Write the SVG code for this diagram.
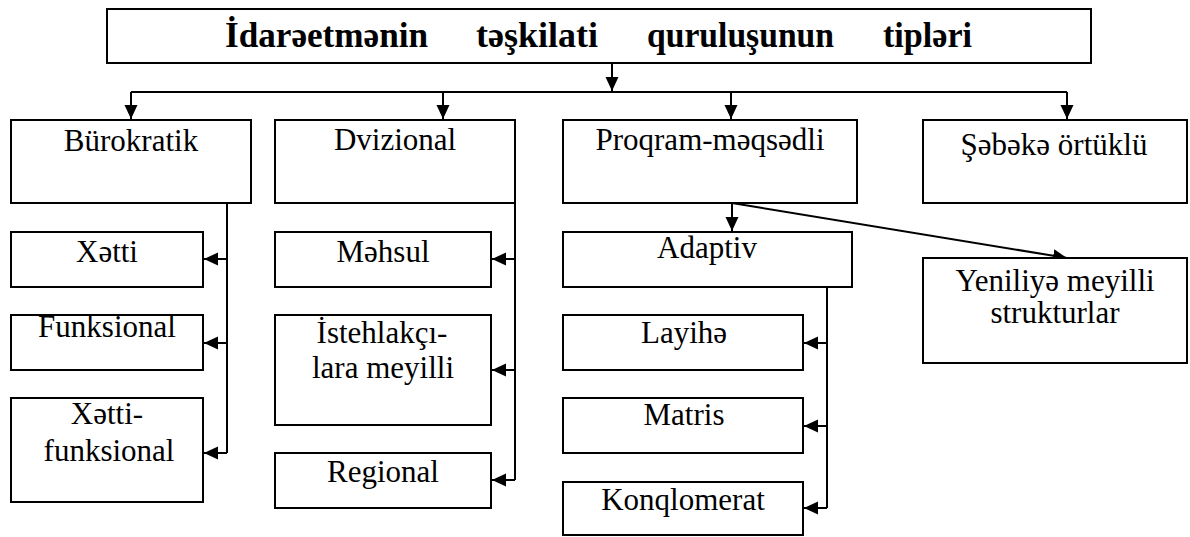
<svg xmlns="http://www.w3.org/2000/svg" width="1190" height="537" viewBox="0 0 1190 537">
<style>
.box{fill:#fff;stroke:#000;stroke-width:2}
.t{font-family:"Liberation Serif","Times New Roman",serif;font-size:31px;fill:#000;text-anchor:middle}
.title{font-family:"Liberation Serif","Times New Roman",serif;font-size:36px;font-weight:bold;fill:#000}
.c{fill:none;stroke:#000;stroke-width:2}
</style>
<defs>
<marker id="ah" markerUnits="userSpaceOnUse" markerWidth="15" markerHeight="14" refX="14" refY="6.5" orient="auto">
<path d="M0,0 L14,6.5 L0,13 z" fill="#000"/>
</marker>
</defs>
<rect width="1190" height="537" fill="#fff"/>
<g id="connectors">
<path class="c" d="M612,63 V91" marker-end="url(#ah)"/>
<path class="c" d="M131,92 H1067"/>
<path class="c" d="M131,92 V119" marker-end="url(#ah)"/>
<path class="c" d="M443,92 V119" marker-end="url(#ah)"/>
<path class="c" d="M731,92 V119" marker-end="url(#ah)"/>
<path class="c" d="M1067,92 V119" marker-end="url(#ah)"/>
<path class="c" d="M227,203 V453"/>
<path class="c" d="M227,259 H204" marker-end="url(#ah)"/>
<path class="c" d="M227,343 H204" marker-end="url(#ah)"/>
<path class="c" d="M227,453 H204" marker-end="url(#ah)"/>
<path class="c" d="M515,203 V480"/>
<path class="c" d="M515,259 H492" marker-end="url(#ah)"/>
<path class="c" d="M515,370 H492" marker-end="url(#ah)"/>
<path class="c" d="M515,480 H492" marker-end="url(#ah)"/>
<path class="c" d="M732,203 V231" marker-end="url(#ah)"/>
<path class="c" d="M732,203 L1067,258" marker-end="url(#ah)"/>
<path class="c" d="M827,287 V508"/>
<path class="c" d="M827,343 H804" marker-end="url(#ah)"/>
<path class="c" d="M827,426 H804" marker-end="url(#ah)"/>
<path class="c" d="M827,508 H804" marker-end="url(#ah)"/>
</g>
<g id="title">
<rect class="box" x="107" y="9" width="984" height="54"/>
<text class="title" x="225" y="47" textLength="203" lengthAdjust="spacingAndGlyphs">İdarəetmənin</text>
<text class="title" x="476" y="47" textLength="122" lengthAdjust="spacingAndGlyphs">təşkilati</text>
<text class="title" x="647" y="47" textLength="187" lengthAdjust="spacingAndGlyphs">quruluşunun</text>
<text class="title" x="883" y="47" textLength="89" lengthAdjust="spacingAndGlyphs">tipləri</text>
</g>
<g id="burokratik">
<rect class="box" x="11" y="120" width="240" height="83"/>
<text class="t" x="131" y="151">Bürokratik</text>
</g>
<g id="dvizional">
<rect class="box" x="275" y="120" width="240" height="83"/>
<text class="t" x="395" y="150">Dvizional</text>
</g>
<g id="proqram">
<rect class="box" x="563" y="120" width="294" height="83"/>
<text class="t" x="710" y="150">Proqram-məqsədli</text>
</g>
<g id="sebeke">
<rect class="box" x="923" y="120" width="264" height="83"/>
<text class="t" x="1054" y="155">Şəbəkə örtüklü</text>
</g>
<g id="xetti">
<rect class="box" x="11" y="232" width="192" height="55"/>
<text class="t" x="107" y="262">Xətti</text>
</g>
<g id="funksional">
<rect class="box" x="11" y="315" width="192" height="55"/>
<text class="t" x="107" y="337">Funksional</text>
</g>
<g id="xetti-funksional">
<rect class="box" x="11" y="398" width="192" height="104"/>
<text class="t" x="107" y="424">Xətti-</text>
<text class="t" x="109" y="461">funksional</text>
</g>
<g id="mehsul">
<rect class="box" x="275" y="232" width="216" height="55"/>
<text class="t" x="383" y="262">Məhsul</text>
</g>
<g id="istehlakci">
<rect class="box" x="275" y="315" width="216" height="110"/>
<text class="t" x="382" y="343">İstehlakçı-</text>
<text class="t" x="383" y="378">lara meyilli</text>
</g>
<g id="regional">
<rect class="box" x="275" y="453" width="216" height="55"/>
<text class="t" x="383" y="482">Regional</text>
</g>
<g id="adaptiv">
<rect class="box" x="563" y="232" width="289" height="55"/>
<text class="t" x="707" y="258">Adaptiv</text>
</g>
<g id="layihe">
<rect class="box" x="563" y="315" width="240" height="55"/>
<text class="t" x="684" y="343">Layihə</text>
</g>
<g id="matris">
<rect class="box" x="563" y="398" width="240" height="55"/>
<text class="t" x="684" y="425">Matris</text>
</g>
<g id="konqlomerat">
<rect class="box" x="563" y="482" width="240" height="53"/>
<text class="t" x="683" y="510">Konqlomerat</text>
</g>
<g id="yenilik">
<rect class="box" x="923" y="258" width="264" height="105"/>
<text class="t" x="1055" y="291">Yeniliyə meyilli</text>
<text class="t" x="1055" y="323">strukturlar</text>
</g>
</svg>
